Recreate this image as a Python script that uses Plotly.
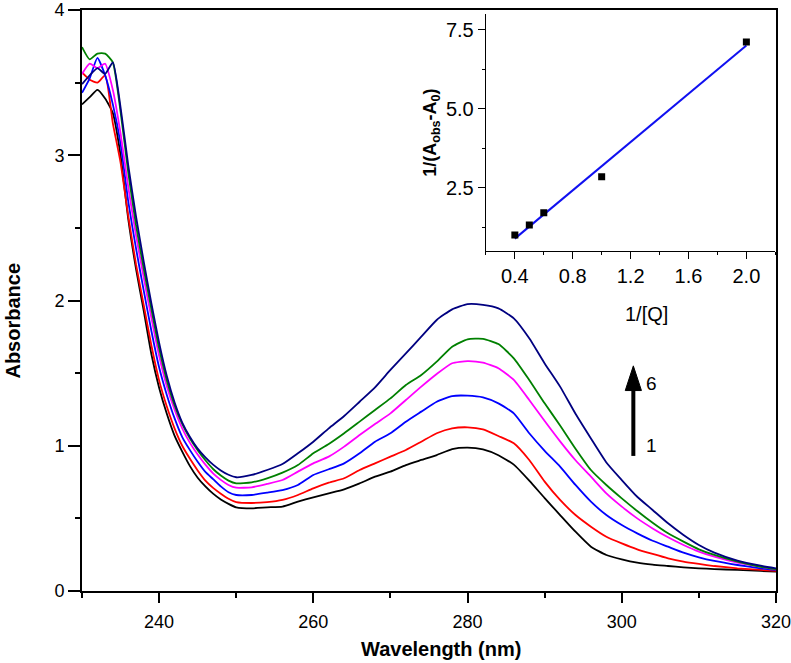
import numpy as np
import plotly.graph_objects as go

# wavelengths (nm) the spectra were read at
wavelength = [230, 231, 232, 233, 234, 235, 236, 237, 238, 239,
              240, 241, 242, 243, 244, 245, 246, 247, 248, 249,
              250, 252, 254, 256, 258, 260, 262, 264, 266, 268,
              270, 272, 274, 276, 278, 280, 282, 284, 286, 288,
              290, 292, 294, 296, 298, 300, 302, 304, 306, 308,
              310, 312, 315, 318, 320]

abs_1 = [3.35, 3.40, 3.45, 3.39, 3.29, 3.00, 2.56, 2.22, 1.93, 1.63,
         1.40, 1.22, 1.07, 0.96, 0.86, 0.78, 0.72, 0.67, 0.63, 0.60,
         0.576, 0.569, 0.576, 0.581, 0.615, 0.645, 0.672, 0.700, 0.741, 0.787,
         0.822, 0.867, 0.902, 0.936, 0.977, 0.987, 0.975, 0.935, 0.87, 0.76,
         0.64, 0.523, 0.408, 0.305, 0.248, 0.218, 0.195, 0.181, 0.172, 0.163,
         0.156, 0.151, 0.145, 0.138, 0.133]
abs_2 = [3.57, 3.52, 3.50, 3.55, 3.22, 2.95, 2.58, 2.25, 1.97, 1.69,
         1.45, 1.27, 1.12, 1.00, 0.91, 0.83, 0.76, 0.71, 0.67, 0.635,
         0.612, 0.606, 0.612, 0.627, 0.661, 0.707, 0.746, 0.776, 0.833, 0.879,
         0.925, 0.971, 1.028, 1.086, 1.120, 1.127, 1.113, 1.067, 1.017, 0.902,
         0.753, 0.627, 0.523, 0.443, 0.374, 0.328, 0.287, 0.255, 0.225, 0.202,
         0.186, 0.172, 0.156, 0.145, 0.138]
abs_3 = [3.43, 3.53, 3.67, 3.55, 3.35, 3.08, 2.68, 2.36, 2.07, 1.79,
         1.54, 1.35, 1.19, 1.06, 0.97, 0.89, 0.82, 0.77, 0.72, 0.68,
         0.661, 0.661, 0.677, 0.695, 0.730, 0.799, 0.838, 0.879, 0.948, 1.028,
         1.086, 1.166, 1.235, 1.303, 1.342, 1.345, 1.333, 1.292, 1.223, 1.086,
         0.965, 0.856, 0.730, 0.615, 0.523, 0.454, 0.397, 0.346, 0.305, 0.264,
         0.232, 0.207, 0.179, 0.156, 0.145]
abs_4 = [3.56, 3.63, 3.60, 3.63, 3.45, 3.15, 2.78, 2.45, 2.16, 1.88,
         1.62, 1.41, 1.25, 1.12, 1.02, 0.94, 0.87, 0.81, 0.765, 0.73,
         0.711, 0.714, 0.737, 0.764, 0.822, 0.879, 0.925, 0.994, 1.074, 1.150,
         1.223, 1.315, 1.407, 1.494, 1.568, 1.583, 1.572, 1.533, 1.453, 1.315,
         1.17, 1.03, 0.90, 0.787, 0.672, 0.581, 0.500, 0.431, 0.370, 0.317,
         0.271, 0.236, 0.195, 0.167, 0.149]
abs_5 = [3.745, 3.66, 3.70, 3.70, 3.64, 3.30, 2.88, 2.52, 2.22, 1.94,
         1.67, 1.45, 1.28, 1.15, 1.05, 0.97, 0.90, 0.84, 0.795, 0.76,
         0.741, 0.748, 0.776, 0.815, 0.867, 0.948, 1.012, 1.086, 1.166, 1.246,
         1.326, 1.418, 1.487, 1.579, 1.682, 1.733, 1.736, 1.700, 1.602, 1.453,
         1.292, 1.14, 0.98, 0.833, 0.730, 0.638, 0.551, 0.470, 0.397, 0.340,
         0.287, 0.248, 0.202, 0.167, 0.151]
abs_6 = [3.49, 3.55, 3.60, 3.56, 3.64, 3.33, 2.93, 2.58, 2.27, 1.98,
         1.71, 1.48, 1.30, 1.16, 1.06, 0.98, 0.92, 0.87, 0.83, 0.80,
         0.783, 0.799, 0.833, 0.874, 0.948, 1.028, 1.120, 1.205, 1.303, 1.402,
         1.522, 1.636, 1.751, 1.866, 1.939, 1.975, 1.970, 1.946, 1.877, 1.740,
         1.567, 1.407, 1.22, 1.05, 0.885, 0.764, 0.649, 0.558, 0.466, 0.386,
         0.317, 0.264, 0.209, 0.174, 0.156]

spectra = [abs_1, abs_2, abs_3, abs_4, abs_5, abs_6]
colors = ['#000000', '#FF0000', '#0000FF', '#FF00FF', '#008000', '#000080']

# inset: double reciprocal plot
inv_q = [0.4, 0.5, 0.6, 1.0, 2.0]
inv_dA = [1.01, 1.33, 1.71, 2.85, 7.12]

font_main = 'Liberation Sans, Arial, sans-serif'

fig = go.Figure()

for values, color in zip(spectra, colors):
    fig.add_trace(go.Scatter(
        x=wavelength, y=values,
        mode='lines',
        line=dict(color=color, width=1.8, shape='spline', smoothing=0.5),
        xaxis='x', yaxis='y'
    ))

slope, intercept = np.polyfit(inv_q, inv_dA, 1)
fit_x = [min(inv_q), max(inv_q)]
fit_y = [slope * v + intercept for v in fit_x]

fig.add_trace(go.Scatter(
    x=fit_x, y=fit_y, mode='lines',
    line=dict(color='#1010F0', width=2),
    xaxis='x2', yaxis='y2'
))
fig.add_trace(go.Scatter(
    x=inv_q, y=inv_dA, mode='markers',
    marker=dict(symbol='square', size=7, color='black'),
    xaxis='x2', yaxis='y2'
))

# arrow 1 -> 6
arrow_x = 301.5
arrow_tail = 0.93
arrow_base = 1.38
arrow_tip = 1.55
head_half = 1.05

fig.add_shape(type='line', x0=arrow_x, x1=arrow_x, y0=arrow_tail, y1=arrow_base + 0.02,
              xref='x', yref='y', line=dict(color='black', width=4))
fig.add_shape(type='path', xref='x', yref='y',
              path=f'M {arrow_x - head_half} {arrow_base} L {arrow_x + head_half} {arrow_base} '
                   f'L {arrow_x} {arrow_tip} Z',
              fillcolor='black', line=dict(color='black', width=1))

fig.add_annotation(x=303.8, y=1.43, text='6', showarrow=False, xref='x', yref='y',
                   font=dict(size=19, color='black', family=font_main))
fig.add_annotation(x=303.9, y=1.0, text='1', showarrow=False, xref='x', yref='y',
                   font=dict(size=19, color='black', family=font_main))

# axis titles placed as in the original figure
fig.add_annotation(x=0.517, y=-0.10, xref='paper', yref='paper', showarrow=False,
                   xanchor='center', yanchor='middle',
                   text='<b>Wavelength (nm)</b>', font=dict(size=20, color='black'))
fig.add_annotation(x=-0.099, y=0.466, xref='paper', yref='paper', showarrow=False,
                   xanchor='center', yanchor='middle', textangle=-90, borderpad=0,
                   text='<b>Absorbance</b>', font=dict(size=20, color='black'))
fig.add_annotation(x=0.814, y=0.477, xref='paper', yref='paper', showarrow=False,
                   xanchor='center', yanchor='middle',
                   text='1/[Q]', font=dict(size=20, color='black'))

fig.update_layout(
    width=791, height=663,
    margin=dict(l=82, r=15, t=10, b=72),
    showlegend=False,
    plot_bgcolor='white',
    paper_bgcolor='white',
    font=dict(family=font_main, color='black'),
    xaxis=dict(
        range=[230, 320], tick0=240, dtick=20,
        ticks='outside', ticklen=10, tickwidth=1.5, tickcolor='black',
        minor=dict(dtick=10, ticks='outside', ticklen=5, tickwidth=1.5, tickcolor='black'),
        showline=True, linewidth=2, linecolor='black', mirror=True,
        showgrid=False, zeroline=False, automargin=False,
        ticklabeloverflow='allow', ticklabelstandoff=3,
        tickfont=dict(size=18)
    ),
    yaxis=dict(
        range=[0, 4], dtick=1,
        ticks='outside', ticklen=12, tickwidth=1.5, tickcolor='black',
        minor=dict(dtick=0.5, ticks='outside', ticklen=5, tickwidth=1.5, tickcolor='black'),
        showline=True, linewidth=2, linecolor='black', mirror=True,
        showgrid=False, zeroline=False, automargin=False,
        ticklabeloverflow='allow',
        tickfont=dict(size=18)
    ),
    xaxis2=dict(
        domain=[0.582, 0.999], anchor='y2',
        range=[0.2, 2.2], tick0=0.4, dtick=0.4, tickformat='.1f',
        ticks='outside', ticklen=7, tickwidth=1, tickcolor='black',
        minor=dict(dtick=0.2, ticks='outside', ticklen=3, tickwidth=1, tickcolor='black'),
        showline=True, linewidth=1.3, linecolor='black',
        showgrid=False, zeroline=False, automargin=False,
        ticklabeloverflow='allow',
        tickfont=dict(size=20)
    ),
    yaxis2=dict(
        domain=[0.585, 0.993], anchor='x2',
        range=[0.5, 8], tick0=0, dtick=2.5, tickformat='.1f',
        ticks='outside', ticklen=7, tickwidth=1, tickcolor='black',
        minor=dict(dtick=1.25, ticks='outside', ticklen=3, tickwidth=1, tickcolor='black'),
        showline=True, linewidth=1.3, linecolor='black',
        showgrid=False, zeroline=False, automargin=False,
        ticklabeloverflow='allow',
        tickfont=dict(size=20),
        title=dict(text='<b>1/(A<sub>obs</sub>-A<sub>0</sub>)</b>', font=dict(size=18), standoff=4)
    )
)

# drop the default body margin so the figure sits at the page origin
fig.write_html('out.html', config={'displayModeBar': False},
               post_script="document.body.style.margin = '0';")
